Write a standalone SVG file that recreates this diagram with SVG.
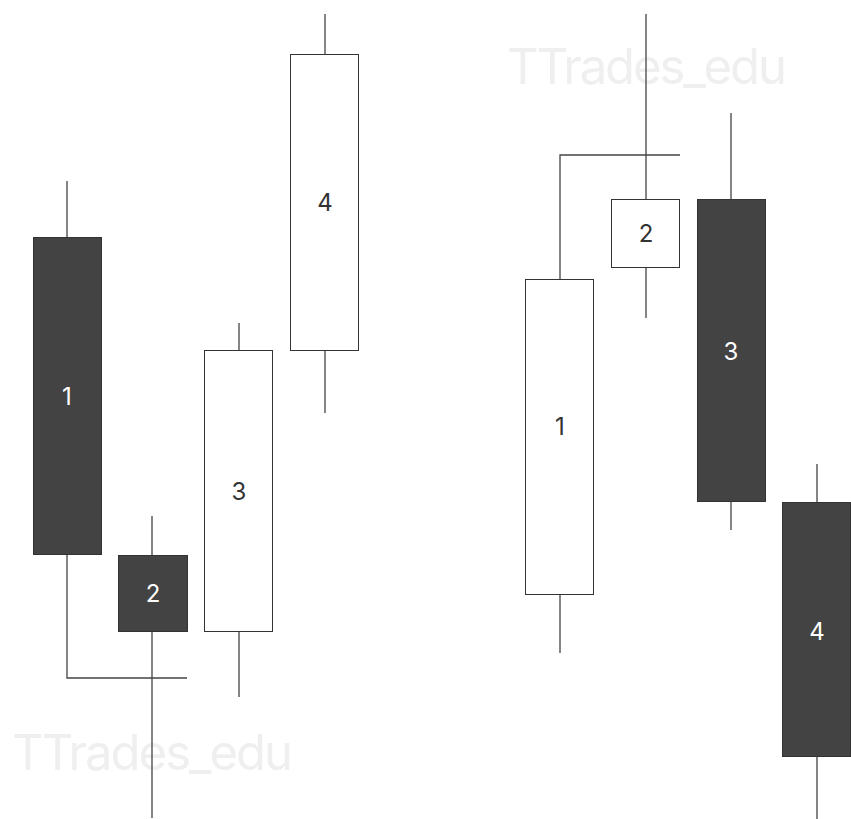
<svg xmlns="http://www.w3.org/2000/svg" width="851" height="819" viewBox="0 0 851 819">
<style>
.wm{font-family:Inter,"Noto Sans",sans-serif;font-size:49px;fill:#efefef}
.w{stroke:#444;stroke-width:1.3;fill:none}
.dark{fill:#434343;stroke:#333;stroke-width:1}
.light{fill:#fff;stroke:#333;stroke-width:1}
.ld{font-family:Inter,"Noto Sans",sans-serif;font-size:24px;fill:#fff;text-anchor:middle}
.ll{font-family:Inter,"Noto Sans",sans-serif;font-size:24px;fill:#333;text-anchor:middle}
</style>
<rect width="851" height="819" fill="#fff"/>
<text class="wm" x="12" y="770" textLength="281">TTrades_edu</text>
<text class="wm" x="507" y="84" textLength="280">TTrades_edu</text>
<g id="connectors">
<path class="w" d="M67 181V237M67 555V678H187"/>
<path class="w" d="M152 516V555M152 631V818"/>
<path class="w" d="M239 323V350M239 631V697"/>
<path class="w" d="M325 14V54M325 350V413"/>
<path class="w" d="M560 279V155H680M560 594V653"/>
<path class="w" d="M646 14V199M646 268V318"/>
<path class="w" d="M731 113V199M731 501V530"/>
<path class="w" d="M817 464V502M817 756V819"/>
</g>
<g id="L1"><rect class="dark" x="33.5" y="237.5" width="68" height="317"/><text class="ld" x="67" y="405">1</text></g>
<g id="L2"><rect class="dark" x="118.5" y="555.5" width="69" height="76"/><text class="ld" x="153" y="602">2</text></g>
<g id="L3"><rect class="light" x="204.5" y="350.5" width="68" height="281"/><text class="ll" x="239" y="500">3</text></g>
<g id="L4"><rect class="light" x="290.5" y="54.5" width="68" height="296"/><text class="ll" x="325" y="211">4</text></g>
<g id="R1"><rect class="light" x="525.5" y="279.5" width="68" height="315"/><text class="ll" x="560" y="435">1</text></g>
<g id="R2"><rect class="light" x="611.5" y="199.5" width="68" height="68"/><text class="ll" x="646" y="242">2</text></g>
<g id="R3"><rect class="dark" x="697.5" y="199.5" width="68" height="302"/><text class="ld" x="731" y="360">3</text></g>
<g id="R4"><rect class="dark" x="782.5" y="502.5" width="68" height="254"/><text class="ld" x="817" y="640">4</text></g>
</svg>
